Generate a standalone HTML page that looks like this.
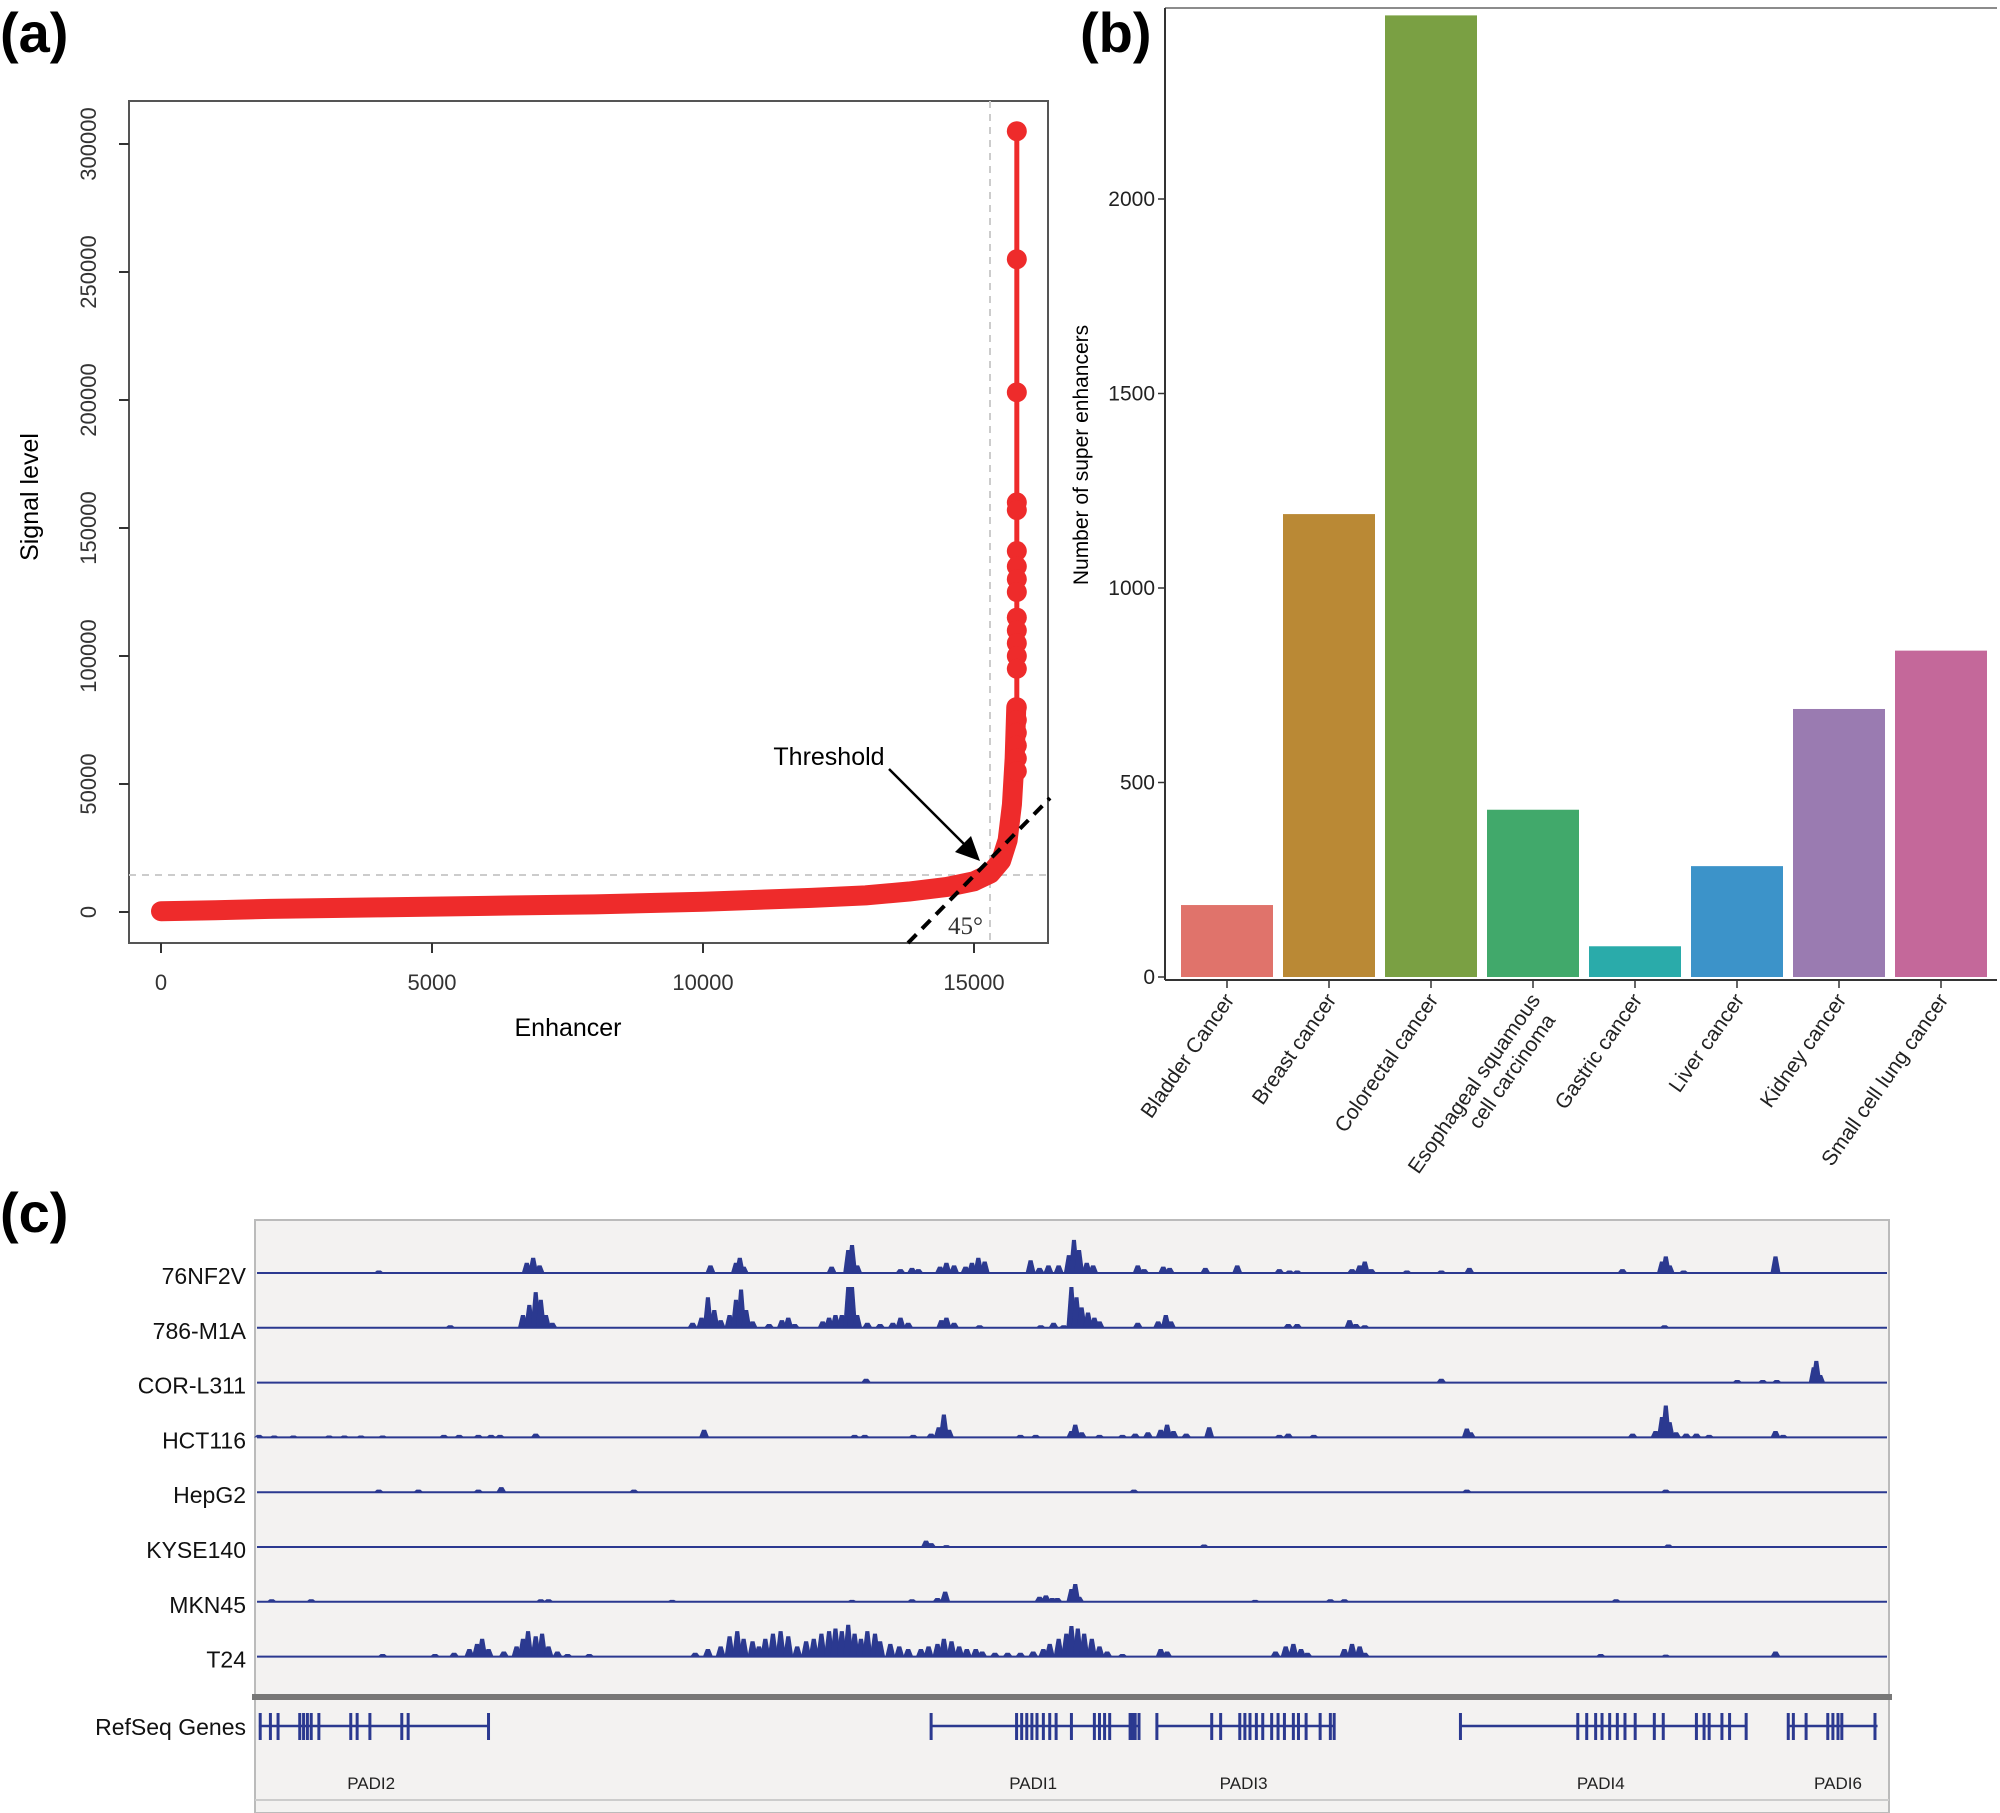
<!DOCTYPE html>
<html><head><meta charset="utf-8"><style>
html,body{margin:0;padding:0;background:#fff}
svg{display:block;font-family:"Liberation Sans",sans-serif}
</style></head><body>
<svg id="fig" width="2000" height="1813" viewBox="0 0 2000 1813">
<text x="0" y="52" font-size="56" font-weight="bold">(a)</text>
<text x="1080" y="52" font-size="56" font-weight="bold">(b)</text>
<text x="0" y="1232" font-size="56" font-weight="bold">(c)</text>
<g id="pa"></g>
<g id="pb"></g>
<g id="pc"></g>
</svg>
<script>
// ---------- Panel (a) data ----------
const rankX = [0, 1000, 2000, 4000, 6000, 8000, 10000, 12000, 13000, 13800, 14500, 15000, 15300, 15500, 15620, 15700, 15750, 15780];
const signalY = [300, 700, 1200, 1800, 2400, 3000, 4000, 5500, 6500, 8000, 9800, 12000, 15000, 20000, 28000, 42000, 60000, 80000];
const topRank = 15790;
const topSignals = [305000, 255000, 203000, 160000, 157000, 141000, 135000, 130000, 125000, 115000, 110000, 105000, 100000, 95000, 80000, 75000, 70000, 65000, 60000, 55000];
const xTicksA = [0, 5000, 10000, 15000];
const yTicksA = [0, 50000, 100000, 150000, 200000, 250000, 300000];

// ---------- Panel (b) data ----------
const cancers = ["Bladder Cancer","Breast cancer","Colorectal cancer","Esophageal squamous|cell carcinoma","Gastric cancer","Liver cancer","Kidney cancer","Small cell lung cancer"];
const seCounts = [185, 1190, 2472, 430, 79, 285, 689, 839];
const barColors = ["#E0736B","#BA8935","#7AA043","#41A96B","#2AABAA","#3C93C9","#9A7BB1","#C4689A"];
const yTicksB = [0, 500, 1000, 1500, 2000];

// ---------- Panel (c) data ----------
const trackNames = ["76NF2V","786-M1A","COR-L311","HCT116","HepG2","KYSE140","MKN45","T24"];
const pk76 = [[297,2],[413,8],[418,12],[423,6],[557,6],[577,8],[580,12],[583,5],[652,5],[665,18],[668,22],[672,6],[706,3],[715,4],[720,3],[737,5],[742,8],[748,6],[757,5],[762,8],[767,12],[772,9],[808,10],[815,4],[822,6],[830,6],[838,14],[842,26],[846,18],[852,8],[857,6],[892,6],[897,3],[912,5],[917,4],[945,4],[970,6],[1003,3],[1011,2],[1017,2],[1060,3],[1066,6],[1070,9],[1075,3],[1103,2],[1130,2],[1152,4],[1272,3],[1303,9],[1306,13],[1309,6],[1320,2],[1392,13]];
const pk786 = [[353,2],[410,10],[415,18],[420,28],[424,22],[428,10],[433,4],[543,4],[550,8],[555,24],[560,14],[565,6],[572,10],[577,22],[581,30],[585,14],[590,5],[603,3],[613,6],[618,8],[623,3],[645,5],[650,8],[655,10],[660,10],[665,32],[668,32],[672,10],[680,4],[690,3],[700,4],[706,8],[712,4],[738,6],[742,8],[748,4],[768,2],[816,2],[826,4],[834,2],[840,32],[844,24],[848,16],[853,12],[858,8],[862,5],[892,4],[908,5],[914,10],[918,5],[1010,3],[1017,3],[1058,6],[1063,3],[1070,2],[1305,2]];
const pkCOR = [[679,3],[1130,3],[1362,2],[1382,2],[1393,2],[1422,12],[1424,17],[1427,6]];
const pkHCT = [[203,2],[215,1.5],[230,1.5],[258,1.5],[270,1.5],[283,1.5],[300,1.5],[348,2],[360,2],[375,2],[385,2],[392,2],[420,3],[552,6],[670,2],[678,2],[716,2],[730,3],[736,8],[740,18],[744,6],[800,2],[812,2],[840,5],[843,10],[848,4],[862,2],[880,2],[890,3],[900,4],[910,6],[915,10],[920,5],[930,3],[948,8],[1003,2],[1010,3],[1030,2],[1150,7],[1153,4],[1280,3],[1298,5],[1303,16],[1306,25],[1309,12],[1314,4],[1322,3],[1330,3],[1340,2],[1392,5],[1398,2]];
const pkHep = [[297,2],[328,2],[375,2],[393,4],[497,2],[889,2],[1150,2],[1306,2]];
const pkKYSE = [[726,5],[730,3],[742,1.5],[944,2],[1308,2]];
const pkMKN = [[213,2],[244,2],[424,2],[430,2],[527,1.5],[668,1.5],[715,2],[735,3],[741,8],[815,4],[820,5],[825,3],[829,3],[840,10],[843,14],[846,4],[984,1.5],[1043,2],[1054,2],[1267,2]];
const pkT24 = [[300,2],[341,2],[356,3],[368,6],[374,10],[378,14],[383,6],[395,4],[405,8],[410,14],[414,20],[420,16],[425,18],[430,8],[437,4],[445,2],[462,2],[545,3],[555,6],[565,8],[572,16],[578,20],[583,14],[590,12],[595,8],[600,14],[606,18],[612,20],[618,16],[625,8],[632,12],[638,14],[644,18],[650,20],[655,22],[660,20],[665,25],[670,18],[675,14],[680,20],[686,18],[690,12],[698,10],[705,8],[712,6],[722,6],[728,8],[735,10],[740,14],[746,12],[752,8],[758,6],[765,6],[770,4],[780,3],[790,3],[800,3],[810,4],[818,6],[823,10],[830,14],[836,18],[840,24],[845,22],[850,18],[856,14],[862,8],[868,4],[880,2],[910,6],[915,4],[1000,4],[1008,8],[1014,10],[1020,6],[1025,3],[1054,6],[1060,10],[1066,8],[1070,3],[1255,2],[1306,1.5],[1392,4]];
const genes = ["PADI2","PADI1","PADI3","PADI4","PADI6"];
const geneLabelPos = [291, 810, 975, 1255, 1441];
const geneStart = [203, 730, 907, 1145, 1402];
const geneEnd = [383, 893, 1046, 1369, 1472];
const geneExons = [
 [204,212,218,235,238,241,244,250,275,280,290,315,320,383],
 [730,797,801,805,809,813,818,823,828,840,858,862,866,870,886,888,890,893],
 [907,950,957,972,976,980,985,990,997,1002,1007,1014,1018,1024,1035,1043,1046],
 [1145,1237,1244,1251,1256,1262,1268,1274,1282,1297,1304,1330,1336,1340,1350,1356,1369],
 [1402,1406,1416,1433,1437,1441,1444,1470]];

const NS="http://www.w3.org/2000/svg";
function mk(p,tag,at,txt){const e=document.createElementNS(NS,tag);for(const k in at)e.setAttribute(k,at[k]);if(txt!==undefined)e.textContent=txt;p.appendChild(e);return e;}

// ---------- Draw (a) ----------
const pa=document.getElementById('pa');
const ax=v=>161+v*(813/15000), ay=v=>912-v*(768/300000);
let e;
e=mk(pa,'rect',{x:129,y:101,width:919,height:842,fill:'none',stroke:'#555','stroke-width':2});

e=mk(pa,'line',{x1:990,y1:101,x2:990,y2:943,stroke:'#ccc','stroke-width':2,'stroke-dasharray':'7,6'});

e=mk(pa,'line',{x1:129,y1:875,x2:1048,y2:875,stroke:'#ccc','stroke-width':2,'stroke-dasharray':'7,6'});

xTicksA.forEach(t=>{const g=mk(pa,'g',{});
 mk(g,'line',{x1:ax(t),y1:943,x2:ax(t),y2:953,stroke:'#333','stroke-width':2});
 mk(g,'text',{x:ax(t),y:990,'font-size':22,'text-anchor':'middle',fill:'#333'},String(t));});
yTicksA.forEach(t=>{const g=mk(pa,'g',{});
 mk(g,'line',{x1:119,y1:ay(t),x2:129,y2:ay(t),stroke:'#333','stroke-width':2});
 mk(g,'text',{x:0,y:0,'font-size':22,'text-anchor':'middle',fill:'#333',transform:`translate(96,${ay(t)}) rotate(-90)`},String(t));});
e=mk(pa,'text',{x:0,y:0,'font-size':25,'text-anchor':'middle',transform:'translate(38,497) rotate(-90)'},'Signal level');

e=mk(pa,'text',{x:568,y:1036,'font-size':25,'text-anchor':'middle'},'Enhancer');

let pts=rankX.map((r,i)=>ax(r)+','+ay(signalY[i])).join(' ');
e=mk(pa,'polyline',{points:pts,fill:'none',stroke:'#EE2B2B','stroke-width':20,'stroke-linejoin':'round','stroke-linecap':'round'});

e=mk(pa,'line',{x1:ax(topRank),y1:ay(80000),x2:ax(topRank),y2:ay(topSignals[0]),stroke:'#EE2B2B','stroke-width':5});

topSignals.forEach(v=>{const c=mk(pa,'circle',{cx:ax(topRank),cy:ay(v),r:10,fill:'#EE2B2B'});
 });
e=mk(pa,'line',{x1:908,y1:943,x2:1050,y2:798,stroke:'#000','stroke-width':4,'stroke-dasharray':'12,8'});

e=mk(pa,'line',{x1:889,y1:769,x2:972,y2:852,stroke:'#000','stroke-width':2.5});

e=mk(pa,'polygon',{points:'980,861 955,852 971,836',fill:'#000'});

e=mk(pa,'text',{x:829,y:765,'font-size':25,'text-anchor':'middle'},'Threshold');

e=mk(pa,'text',{x:948,y:934,'font-size':25,'font-family':'Liberation Serif, serif',fill:'#333'},'45°');


// ---------- Draw (b) ----------
const pb=document.getElementById('pb');
const by=v=>977-v*(778/2000);
const bx0=1176, step=102, bw=92;
e=mk(pb,'line',{x1:1165,y1:8,x2:1997,y2:8,stroke:'#666','stroke-width':1.5});

seCounts.forEach((v,i)=>{const r=mk(pb,'rect',{x:bx0+i*step+5,y:by(v),width:bw,height:977-by(v),fill:barColors[i]});
 
 const cx=bx0+i*step+5+bw/2;
 mk(pb,'line',{x1:cx,y1:980,x2:cx,y2:988,stroke:'#333','stroke-width':1.5});
 const parts=cancers[i].split('|');
 const t=mk(pb,'text',{'font-size':21,'text-anchor':'end',fill:'#222',transform:`translate(${cx+8},${1000}) rotate(-55)`});
 
 parts.forEach((p,j)=>{mk(t,'tspan',{x:j?-8:0,y:j?24:0},p);});
});
e=mk(pb,'line',{x1:1165,y1:8,x2:1165,y2:980,stroke:'#333','stroke-width':2});

e=mk(pb,'line',{x1:1165,y1:980,x2:1997,y2:980,stroke:'#333','stroke-width':2});

yTicksB.forEach(t=>{const g=mk(pb,'g',{});
 mk(g,'line',{x1:1158,y1:by(t),x2:1165,y2:by(t),stroke:'#333','stroke-width':1.5});
 mk(g,'text',{x:1155,y:by(t)+7,'font-size':21,'text-anchor':'end',fill:'#222'},String(t));});
e=mk(pb,'text',{'font-size':21,'text-anchor':'middle',transform:'translate(1088,455) rotate(-90)'},'Number of super enhancers');


// ---------- Draw (c) ----------
const pc=document.getElementById('pc');
const K=1.2755, cx_=p=>p*K;
const navy='#2B3990';
e=mk(pc,'rect',{x:255,y:1220,width:1634,height:593,fill:'#F3F2F1',stroke:'#bbb','stroke-width':2});

const peakSets=[pk76,pk786,pkCOR,pkHCT,pkHep,pkKYSE,pkMKN,pkT24];
trackNames.forEach((n,i)=>{const base=1273+i*54.8;
 const g=mk(pc,'g',{});
 peakSets[i].forEach(pk=>{const x=cx_(pk[0]),h=pk[1]*K;
  const r=mk(g,'polygon',{points:`${x-5},${base} ${x-2},${base-h} ${x+2},${base-h} ${x+5},${base}`,fill:navy});
  });
 mk(g,'line',{x1:257,y1:base,x2:1887,y2:base,stroke:navy,'stroke-width':2});
 const t=mk(pc,'text',{x:246,y:base+11,'font-size':23,'text-anchor':'end',fill:'#111'},n);
 
});
e=mk(pc,'rect',{x:252,y:1694,width:1640,height:6,fill:'#777'});

e=mk(pc,'line',{x1:255,y1:1800,x2:1889,y2:1800,stroke:'#ccc','stroke-width':2});

e=mk(pc,'text',{x:246,y:1735,'font-size':23,'text-anchor':'end',fill:'#111'},'RefSeq Genes');

genes.forEach((gname,i)=>{const g=mk(pc,'g',{});
 mk(g,'line',{x1:cx_(geneStart[i]),y1:1726,x2:cx_(geneEnd[i]),y2:1726,stroke:navy,'stroke-width':2.5});
 geneExons[i].forEach(p=>mk(g,'rect',{x:cx_(p)-1.5,y:1713,width:3,height:27,fill:navy}));
 mk(g,'text',{x:cx_(geneLabelPos[i]),y:1789,'font-size':17,'text-anchor':'middle',fill:'#222'},gname);
});
</script>
</body></html>
